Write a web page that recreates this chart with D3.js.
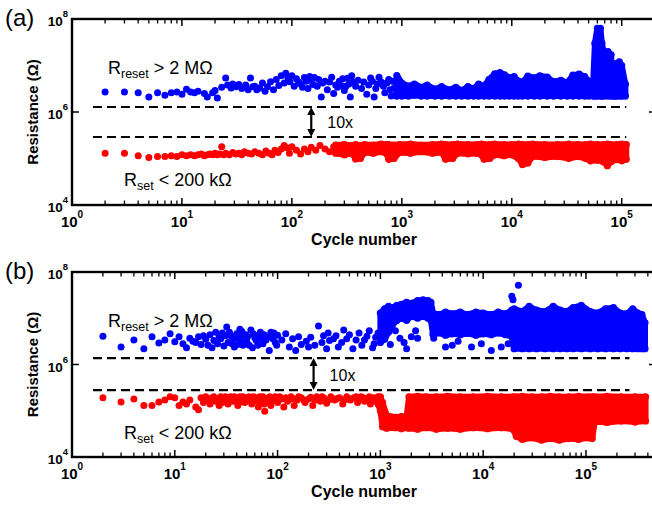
<!DOCTYPE html>
<html>
<head>
<meta charset="utf-8">
<script src="https://cdn.jsdelivr.net/npm/d3@7"></script>
<style>
  body { margin: 0; background: #fff; }
  svg { display: block; }
</style>
</head>
<body>
<div id="chart"></div>
<script>
// ---- data: [cycle, resistance in ohm] ----
const aBluePoints = [[2,2.7e6],[3,2.7e6],[4,2.6e6],[5,2.1e6],[6,2.6e6],[7,2.3e6],[8,2.6e6],[9,2.7e6],[10,2.4e6],[11,3.1e6],[12,2.7e6],[13,2.6e6],[14,2.8e6],[16,2.5e6],[17,2.1e6],[19,2.6e6],[20,2.9e6],[21,2.0e6],[23,3.4e6],[25,5.4e6],[26,3.8e6],[28,3.3e6],[29,4.0e6],[31,3.5e6],[33,3.9e6],[35,3.2e6],[38,3.8e6],[40,3.0e6],[42,5.4e6],[44,3.5e6],[46,3.6e6],[48,3.0e6],[51,3.3e6],[54,4.2e6],[57,2.8e6],[60,3.5e6],[64,4.5e6],[68,3.0e6],[72,5.0e6],[76,3.7e6],[80,6.0e6],[85,4.2e6],[88,6.8e6],[92,5.5e6],[96,4.5e6],[100,6.0e6],[105,3.6e6],[110,5.2e6],[115,4.4e6],[120,4.0e6],[125,3.4e6],[130,5.5e6],[135,4.6e6],[140,3.2e6],[145,5.8e6],[150,4.8e6],[155,3.9e6],[160,5.5e6],[170,3.6e6],[175,5.0e6],[185,2.1e6],[190,4.2e6],[200,4.6e6],[210,3.0e6],[220,4.4e6],[230,5.6e6],[240,2.5e6],[250,3.8e6],[260,3.4e6],[270,4.6e6],[280,3.7e6],[290,5.2e6],[300,2.9e6],[310,3.6e6],[320,5.3e6],[330,4.0e6],[340,2.1e6],[350,6.0e6],[360,4.4e6],[380,3.6e6],[400,4.8e6],[430,3.2e6],[450,4.4e6],[480,2.4e6],[500,3.8e6],[520,5.4e6],[540,4.6e6],[560,2.1e6],[580,3.2e6],[600,4.0e6],[620,5.6e6],[650,4.4e6],[680,3.6e6],[700,2.6e6],[730,4.2e6],[760,5.0e6],[780,3.0e6],[800,2.2e6],[820,4.6e6],[850,3.3e6],[880,2.4e6]];
// dense part of each cloud: [cycle, lowest, highest]
const aBlueBand = [[900,2.2e6,6.1e6],[1000,2.2e6,4.2e6],[1150,2.2e6,3.6e6],[1300,2.3e6,4.0e6],[1500,2.2e6,3.4e6],[1700,2.2e6,3.8e6],[2000,2.2e6,3.1e6],[2300,2.2e6,3.5e6],[2700,2.2e6,3.0e6],[3100,2.2e6,3.4e6],[3500,2.2e6,2.9e6],[4000,2.2e6,3.5e6],[4500,2.2e6,3.2e6],[5000,2.2e6,4.0e6],[5600,2.2e6,3.6e6],[6200,2.2e6,5.0e6],[7000,2.2e6,6.6e6],[7800,2.2e6,7.0e6],[8600,2.2e6,6.3e6],[9500,2.2e6,5.5e6],[10500,2.2e6,5.8e6],[11500,2.2e6,4.6e6],[12500,2.2e6,4.4e6],[14000,2.2e6,5.9e6],[16000,2.2e6,5.4e6],[18000,2.2e6,6.0e6],[21000,2.2e6,5.6e6],[24000,2.2e6,4.5e6],[28000,2.2e6,4.8e6],[32000,2.2e6,4.3e6],[36000,2.2e6,6.2e6],[41000,2.2e6,6.5e6],[46000,2.2e6,5.8e6],[50000,2.2e6,4.6e6],[55000,2.2e6,4.4e6],[57000,2.2e6,3.0e7],[60000,2.2e6,6.3e7],[64000,2.2e6,6.3e7],[66000,2.2e6,3.0e7],[69000,2.2e6,1.8e7],[75000,2.2e6,2.0e7],[80000,2.2e6,1.7e7],[83000,2.2e6,2.5e6],[87000,2.2e6,2.5e6],[89000,2.2e6,1.1e7],[95000,2.2e6,1.2e7],[100000,2.2e6,1.0e7],[108000,2.2e6,4.0e6]];
const aRedPoints = [[2,1.3e5],[3,1.3e5],[4,1.15e5],[5,1.05e5],[6,1.1e5],[7,1.1e5],[8,1.15e5],[9,1.1e5],[10,1.2e5],[11,1.15e5],[12,1.2e5],[13,1.15e5],[14,1.2e5],[15,1.25e5],[16,1.15e5],[17,1.2e5],[18,1.25e5],[19,1.2e5],[20,1.3e5],[21,1.2e5],[22,1.25e5],[23,1.8e5],[24,1.2e5],[25,1.3e5],[27,1.2e5],[29,1.35e5],[31,1.25e5],[33,1.3e5],[35,1.2e5],[37,1.4e5],[40,1.3e5],[43,1.25e5],[46,1.4e5],[50,1.3e5],[54,1.2e5],[58,1.45e5],[62,1.3e5],[66,1.2e5],[70,1.5e5],[75,1.35e5],[80,1.6e5],[85,1.9e5],[90,1.7e5],[95,1.3e5],[100,1.8e5],[110,1.5e5],[120,1.25e5],[130,1.6e5],[140,1.4e5],[150,1.75e5],[165,1.5e5],[180,1.9e5],[200,1.6e5],[220,1.4e5],[240,1.8e5]];
const aRedBand = [[250,1.3e5,1.95e5],[300,1.2e5,2.0e5],[350,1.3e5,1.9e5],[380,9.8e4,2.0e5],[420,1.0e5,1.9e5],[460,1.35e5,2.0e5],[550,1.3e5,1.95e5],[650,1.4e5,2.05e5],[720,1.3e5,2.0e5],[760,9.6e4,2.0e5],[850,1.0e5,1.95e5],[950,1.35e5,2.0e5],[1200,1.3e5,2.05e5],[1500,1.4e5,1.95e5],[1900,1.3e5,2.0e5],[2300,1.35e5,2.05e5],[2500,9.6e4,2.0e5],[2900,1.0e5,2.0e5],[3200,1.3e5,2.05e5],[4000,1.25e5,2.0e5],[4800,1.3e5,2.0e5],[5300,1.2e5,2.05e5],[5600,9.6e4,2.0e5],[6300,1.0e5,2.0e5],[7000,1.2e5,2.05e5],[8500,1.15e5,2.0e5],[10000,1.2e5,2.0e5],[11500,1.0e5,2.05e5],[12500,7.4e4,2.0e5],[14000,8.0e4,2.0e5],[15500,1.1e5,2.05e5],[20000,1.05e5,2.0e5],[26000,1.1e5,2.0e5],[33000,1.0e5,2.05e5],[40000,1.1e5,2.0e5],[47000,1.0e5,2.0e5],[52000,8.9e4,2.05e5],[60000,9.2e4,2.0e5],[68000,8.5e4,2.0e5],[74000,7.0e4,2.05e5],[80000,8.5e4,2.0e5],[90000,9.5e4,2.0e5],[100000,9.0e4,2.05e5],[110000,9.6e4,2.0e5]];

const bBluePoints = [[2,4.1e6],[3,2.4e6],[4,3.4e6],[5,2.2e6],[6,4.0e6],[7,2.9e6],[8,3.4e6],[9,4.6e6],[10,3.1e6],[11,4.0e6],[12,2.8e6],[13,2.3e6],[14,3.7e6],[15,3.2e6],[16,3.0e6],[17,4.0e6],[18,2.7e6],[19,4.2e6],[20,3.5e6],[21,2.6e6],[22,4.4e6],[23,2.3e6],[24,3.3e6],[25,5.0e6],[26,2.8e6],[27,3.9e6],[28,3.6e6],[29,4.8e6],[30,2.5e6],[31,4.2e6],[32,6.5e6],[33,3.0e6],[34,5.0e6],[35,4.2e6],[36,2.8e6],[37,3.6e6],[38,2.4e6],[39,4.0e6],[40,4.6e6],[41,2.7e6],[42,3.5e6],[43,5.8e6],[44,3.9e6],[45,5.2e6],[46,2.6e6],[47,3.0e6],[49,4.4e6],[50,3.2e6],[51,4.0e6],[53,2.6e6],[55,5.6e6],[57,2.3e6],[58,4.6e6],[60,3.8e6],[62,3.3e6],[64,2.6e6],[66,4.4e6],[68,5.0e6],[70,3.6e6],[72,2.8e6],[74,4.4e6],[77,3.4e6],[80,3.9e6],[83,2.0e6],[86,5.0e6],[90,3.6e6],[92,4.8e6],[95,3.0e6],[98,2.6e6],[100,4.3e6],[110,3.4e6],[120,4.6e6],[130,2.4e6],[140,3.6e6],[150,2.0e6],[160,4.0e6],[170,2.7e6],[190,3.2e6],[200,2.4e6],[210,3.9e6],[230,2.6e6],[250,6.8e6],[270,3.0e6],[280,4.2e6],[300,2.2e6],[310,4.8e6],[320,3.3e6],[350,3.6e6],[370,4.2e6],[390,2.4e6],[420,3.0e6],[440,5.6e6],[470,3.6e6],[500,4.4e6],[540,2.2e6],[580,3.4e6],[620,4.8e6],[660,2.6e6],[700,3.4e6],[740,4.1e6],[780,5.4e6],[840,2.3e6],[870,2.8e6],[900,3.9e6],[950,4.8e6],[1100,4.4e6],[1250,2.7e6],[1400,5.4e6],[1550,3.7e6],[1700,3.0e6],[1800,2.2e6],[2000,4.0e6],[2200,5.4e6],[2300,3.7e6],[3300,3.7e6],[4300,2.4e6],[5000,2.6e6],[5700,3.2e6],[7700,2.4e6],[9600,2.8e6],[12000,2.0e6],[15000,2.4e6],[17500,2.8e6],[19000,3.0e7],[19500,2.5e7],[22000,5.2e7]];
const bBlueBand = [[1000,3.0e6,1.3e7],[1100,3.5e6,1.6e7],[1200,5.0e6,1.8e7],[1300,7.0e6,1.7e7],[1450,9.0e6,1.9e7],[1600,1.0e7,2.0e7],[1800,9.0e6,2.2e7],[2000,1.1e7,2.1e7],[2300,1.0e7,2.4e7],[2600,1.1e7,2.5e7],[2900,1.0e7,2.4e7],[3100,9.0e6,2.2e7],[3250,4.5e6,1.3e7],[3700,4.8e6,1.2e7],[4300,4.3e6,1.35e7],[5000,4.6e6,1.25e7],[6000,4.4e6,1.35e7],[7000,4.7e6,1.2e7],[8500,4.3e6,1.35e7],[10000,4.6e6,1.3e7],[12000,4.4e6,1.2e7],[14000,4.8e6,1.35e7],[16500,4.4e6,1.25e7],[19000,4.0e6,1.5e7],[20000,2.2e6,1.6e7],[24000,2.2e6,1.4e7],[28000,2.2e6,1.8e7],[33000,2.2e6,1.5e7],[40000,2.2e6,1.4e7],[48000,2.2e6,1.8e7],[56000,2.2e6,1.5e7],[65000,2.2e6,1.4e7],[75000,2.2e6,1.7e7],[90000,2.2e6,1.9e7],[110000,2.2e6,1.4e7],[130000,2.2e6,1.3e7],[155000,2.2e6,1.6e7],[185000,2.2e6,1.7e7],[215000,2.2e6,1.3e7],[250000,2.2e6,1.25e7],[285000,2.2e6,1.6e7],[320000,2.2e6,1.3e7],[350000,2.2e6,1.2e7],[375000,2.2e6,8e6]];
const bRedPoints = [[2,1.9e5],[3,1.55e5],[4,1.8e5],[5,1.3e5],[6,1.3e5],[7,1.55e5],[8,1.7e5],[9,2.0e5],[10,1.9e5],[11,1.3e5],[12,1.55e5],[13,1.4e5],[14,1.7e5],[16,1.2e5],[17,1.05e5],[18,1.9e5],[19,1.5e5],[20,2.0e5],[21,1.7e5],[22,1.4e5],[23,1.9e5],[24,2.0e5],[25,1.6e5],[26,1.8e5],[27,1.3e5],[28,2.0e5],[29,1.5e5],[30,1.7e5],[31,2.0e5],[32,1.9e5],[33,1.4e5],[34,1.75e5],[35,2.0e5],[36,1.85e5],[37,1.6e5],[38,2.0e5],[39,1.8e5],[40,1.6e5],[41,1.3e5],[42,1.85e5],[43,2.0e5],[44,1.55e5],[45,1.7e5],[46,2.0e5],[47,1.8e5],[48,1.5e5],[49,1.65e5],[50,1.9e5],[52,1.8e5],[53,2.0e5],[55,1.9e5],[56,1.4e5],[58,2.0e5],[59,1.7e5],[60,1.6e5],[62,1.9e5],[64,1.85e5],[65,1.2e5],[67,2.0e5],[68,1.6e5],[70,1.8e5],[72,2.0e5],[74,1.4e5],[75,9.7e4],[78,1.5e5],[80,1.85e5],[82,1.9e5],[84,2.0e5],[86,1.3e5],[88,1.6e5],[90,1.7e5],[92,1.85e5],[95,2.0e5],[98,1.9e5],[100,1.5e5],[105,2.0e5],[110,1.8e5],[115,1.2e5],[120,1.9e5],[125,1.6e5],[130,1.75e5],[135,2.0e5],[140,1.85e5],[145,1.3e5],[155,1.7e5],[160,2.0e5],[170,1.9e5],[180,1.7e5],[185,1.5e5],[200,1.8e5],[210,1.95e5],[220,1.3e5],[230,1.7e5],[240,2.0e5],[250,1.85e5],[260,1.6e5],[270,2.0e5],[280,1.9e5],[300,1.45e5],[320,1.75e5],[330,2.0e5],[360,1.7e5],[380,1.85e5],[400,1.9e5],[430,1.4e5],[450,1.7e5],[470,2.0e5],[490,1.85e5],[510,1.7e5],[550,1.9e5],[580,2.0e5],[600,1.5e5],[620,1.75e5],[650,2.0e5],[680,1.9e5],[700,1.6e5],[750,1.85e5],[780,2.0e5],[800,1.4e5],[820,1.65e5],[850,1.9e5],[880,1.85e5],[900,1.7e5],[930,1.55e5]];
const bRedBand = [[950,1.4e5,2.0e5],[1000,1.0e5,2.0e5],[1050,4.5e4,1.5e5],[1150,4.2e4,8.0e4],[1400,4.3e4,7.2e4],[1600,4.1e4,7.5e4],[1800,4.3e4,7.5e4],[1900,4.2e4,2.0e5],[2300,4.0e4,2.05e5],[2800,4.3e4,2.0e5],[3500,4.0e4,2.0e5],[4500,4.2e4,2.05e5],[6000,4.0e4,2.0e5],[8000,4.3e4,2.0e5],[11000,4.1e4,2.05e5],[15000,4.3e4,2.0e5],[19500,4.0e4,2.0e5],[21000,2.8e4,2.0e5],[24000,2.4e4,2.05e5],[30000,2.6e4,2.0e5],[37000,2.3e4,2.0e5],[45000,2.5e4,2.05e5],[55000,2.3e4,2.0e5],[68000,2.5e4,2.0e5],[85000,2.4e4,2.05e5],[105000,2.6e4,2.0e5],[115000,2.5e4,2.0e5],[122000,5.9e4,2.0e5],[160000,5.6e4,2.05e5],[220000,6.0e4,2.0e5],[300000,5.7e4,2.0e5],[380000,6.0e4,2.0e5]];

// threshold lines [upper, lower], their cycle span, and where the "10x" arrow sits
const aLevels = [1.28e6, 2.9e5];
const bLevels = [1.38e6, 2.8e5];
const aLineSpan = [1.55, 1.1e5];
const bLineSpan = [1.6, 2.65e5];
const aArrowCycle = 150;
const bArrowCycle = 224;

const xMajor = [1, 10, 100, 1000, 10000, 100000];
const yMajor = [1e4, 1e6, 1e8];

// ---- layout ----
const W = 652, H = 506;
const left = 72, right = 656;
const font = "'Liberation Sans', Arial, Helvetica, sans-serif";
const blue = "#0000ff", red = "#ff0000";

const panels = [
  { label: "(a)", top: 19, bottom: 205, xMax: 2.05e5,
    blue: aBluePoints, blueBand: aBlueBand, red: aRedPoints, redBand: aRedBand,
    levels: aLevels, span: aLineSpan, arrow: aArrowCycle },
  { label: "(b)", top: 272, bottom: 457, xMax: 4.8e5,
    blue: bBluePoints, blueBand: bBlueBand, red: bRedPoints, redBand: bRedBand,
    levels: bLevels, span: bLineSpan, arrow: bArrowCycle }
];

const svg = d3.select("#chart").append("svg")
  .attr("width", W).attr("height", H)
  .style("font-family", font);

panels.forEach(p => drawPanel(p));

function drawPanel(p) {
  const x = d3.scaleLog().domain([1, p.xMax]).range([left, right]);
  const y = d3.scaleLog().domain([1e4, 1e8]).range([p.bottom, p.top]);
  const g = svg.append("g");

  // minor x ticks
  const minor = [];
  for (let e = 0; e <= 5; e++) {
    for (let m = 2; m <= 9; m++) {
      const v = m * Math.pow(10, e);
      if (v < p.xMax) minor.push(v);
    }
  }

  // clouds: dense part as a band with dotted edges, sparse part as dots
  const band = d3.area()
    .x(d => x(d[0]))
    .y0(d => y(d[1]))
    .y1(d => y(d[2]));

  [[p.blueBand, blue], [p.redBand, red]].forEach(([data, c]) => {
    g.append("path")
      .datum(data)
      .attr("d", band)
      .attr("fill", c)
      .attr("stroke", c)
      .attr("stroke-width", 6)
      .attr("stroke-linejoin", "round");
    const edge = g.append("g").attr("fill", c);
    edge.selectAll("circle.lo").data(data).enter().append("circle")
      .attr("cx", d => x(d[0])).attr("cy", d => y(d[1])).attr("r", 3.6);
    edge.selectAll("circle.hi").data(data).enter().append("circle")
      .attr("cx", d => x(d[0])).attr("cy", d => y(d[2])).attr("r", 3.6);
  });

  [[p.blue, blue], [p.red, red]].forEach(([data, c]) => {
    g.append("g").selectAll("circle")
      .data(data)
      .enter()
      .append("circle")
      .attr("cx", d => x(d[0]))
      .attr("cy", d => y(d[1]))
      .attr("r", 3.5)
      .attr("fill", c);
  });

  // dashed threshold lines
  p.levels.forEach(v => {
    g.append("line")
      .attr("x1", x(p.span[0])).attr("x2", x(p.span[1]))
      .attr("y1", y(v)).attr("y2", y(v))
      .attr("stroke", "#000")
      .attr("stroke-width", 2.2)
      .attr("stroke-dasharray", "9,5");
  });

  // double arrow
  const ax = x(p.arrow), ay1 = y(p.levels[0]), ay2 = y(p.levels[1]);
  g.append("line")
    .attr("x1", ax).attr("x2", ax)
    .attr("y1", ay1 + 6).attr("y2", ay2 - 6)
    .attr("stroke", "#000").attr("stroke-width", 2.2);
  g.append("path")
    .attr("d", `M${ax},${ay1} l-4,8 h8 Z M${ax},${ay2} l-4,-8 h8 Z`)
    .attr("fill", "#000");
  g.append("text")
    .attr("x", ax + 16).attr("y", p.top + 109)
    .attr("font-size", 16)
    .text("10x");

  // annotations
  const t1 = g.append("text").attr("x", 108).attr("y", p.top + 55).attr("font-size", 18);
  t1.append("tspan").text("R");
  t1.append("tspan").attr("font-size", 12.5).attr("dy", 4).text("reset");
  t1.append("tspan").attr("dy", -4).text(" > 2 M\u03A9");

  const t2 = g.append("text").attr("x", 124).attr("y", p.top + 167).attr("font-size", 18);
  t2.append("tspan").text("R");
  t2.append("tspan").attr("font-size", 12.5).attr("dy", 4).text("set");
  t2.append("tspan").attr("dy", -4).text(" < 200 k\u03A9");

  // frame
  g.append("rect")
    .attr("x", left).attr("y", p.top)
    .attr("width", right - left).attr("height", p.bottom - p.top)
    .attr("fill", "none").attr("stroke", "#000").attr("stroke-width", 2.4);

  // x ticks, bottom and top, pointing inward
  [[p.bottom, -1], [p.top, 1]].forEach(([yy, dir]) => {
    g.append("g").selectAll("line.mi")
      .data(minor).enter().append("line")
      .attr("x1", d => x(d)).attr("x2", d => x(d))
      .attr("y1", yy).attr("y2", yy + dir * 4.5)
      .attr("stroke", "#000").attr("stroke-width", 1.3);
    g.append("g").selectAll("line.ma")
      .data(xMajor).enter().append("line")
      .attr("x1", d => x(d)).attr("x2", d => x(d))
      .attr("y1", yy).attr("y2", yy + dir * 7)
      .attr("stroke", "#000").attr("stroke-width", 1.5);
  });

  // y ticks, left and right
  [[left, 1], [right, -1]].forEach(([xx, dir]) => {
    g.append("g").selectAll("line")
      .data(yMajor).enter().append("line")
      .attr("x1", xx).attr("x2", xx + dir * 7)
      .attr("y1", d => y(d)).attr("y2", d => y(d))
      .attr("stroke", "#000").attr("stroke-width", 1.5);
  });

  // x tick labels 10^n
  xMajor.forEach(v => {
    const t = g.append("text")
      .attr("x", x(v)).attr("y", p.bottom + 22)
      .attr("text-anchor", "middle")
      .attr("font-size", 15).attr("font-weight", "bold");
    t.append("tspan").text("10");
    t.append("tspan").attr("font-size", 10).attr("dy", -9).text(Math.round(Math.log10(v)));
  });

  // y tick labels 10^n
  yMajor.forEach(v => {
    const t = g.append("text")
      .attr("x", 68).attr("y", y(v) + 7)
      .attr("text-anchor", "end")
      .attr("font-size", 13.5).attr("font-weight", "bold");
    t.append("tspan").text("10");
    t.append("tspan").attr("font-size", 9.5).attr("dy", -9).text(Math.round(Math.log10(v)));
  });

  // axis titles
  g.append("text")
    .attr("transform", `translate(38,${(p.top + p.bottom) / 2}) rotate(-90)`)
    .attr("text-anchor", "middle")
    .attr("font-size", 15).attr("font-weight", "bold")
    .text("Resistance (\u03A9)");
  g.append("text")
    .attr("x", 364).attr("y", p.bottom + 40)
    .attr("text-anchor", "middle")
    .attr("font-size", 16).attr("font-weight", "bold")
    .text("Cycle number");

  // panel label
  g.append("text")
    .attr("x", 5).attr("y", p.top + 7)
    .attr("font-size", 24)
    .text(p.label);
}
</script>
</body>
</html>
